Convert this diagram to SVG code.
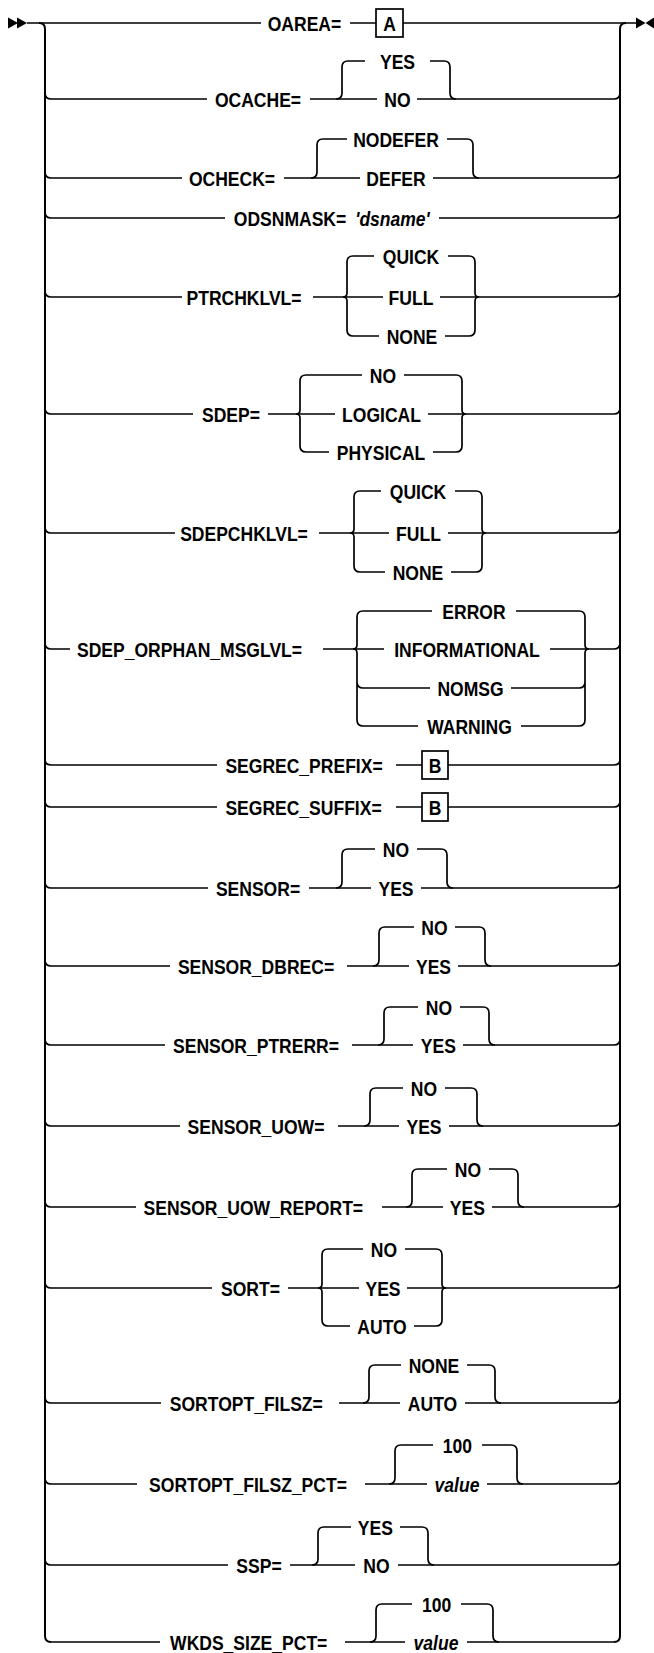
<svg xmlns="http://www.w3.org/2000/svg" width="654" height="1653" viewBox="0 0 654 1653">
<style>
.l{fill:none;stroke:#000;stroke-width:1.7;stroke-linecap:butt}
.r{fill:none;stroke:#000;stroke-width:2}
.t{font-family:"Liberation Sans",Arial,sans-serif;font-weight:bold;font-size:21px;text-anchor:middle;fill:#000}
.i{font-style:italic}
.b{fill:#fff;stroke:#000;stroke-width:1.7}
.a{fill:#000}
</style>
<rect width="654" height="1653" fill="#fff"/>
<g id="connectors">
<polygon class="a" points="8,17.5 18,23 8,28.5"/>
<polygon class="a" points="17,17.5 27,23 17,28.5"/>
<polygon class="a" points="636,17.5 645.5,23 636,28.5"/>
<polygon class="a" points="654,17.5 645.5,23 654,28.5"/>
<path class="r" d="M39 23 Q45 23 45 29 V1636 Q45 1642 51 1642"/>
<path class="r" d="M626 23 Q620 23 620 29 V1636 Q620 1642 614 1642"/>
<path class="l" d="M27 23 H261 M350 23 H376 M403 23 H637"/>
<!-- OCACHE -->
<path class="l" d="M45 93 Q45 99 51 99 H207 M310 99 H377 M417 99 H614 Q620 99 620 93"/>
<path class="l" d="M336 99 Q342 99 342 93 V67 Q342 61 348 61 H365 M430 61 H444 Q450 61 450 67 V93 Q450 99 456 99"/>
<!-- OCHECK -->
<path class="l" d="M45 172 Q45 178 51 178 H182 M284 178 H360 M433 178 H614 Q620 178 620 172"/>
<path class="l" d="M311 178 Q317 178 317 172 V145 Q317 139 323 139 H347 M447 139 H467 Q473 139 473 145 V172 Q473 178 479 178"/>
<!-- ODSNMASK -->
<path class="l" d="M45 212 Q45 218 51 218 H225 M439 218 H614 Q620 218 620 212"/>
<!-- PTRCHKLVL -->
<path class="l" d="M45 291 Q45 297 51 297 H182 M313 297 H383 M440 297 H614 Q620 297 620 291"/>
<path class="l" d="M374 256 H353 Q347 256 347 262 V293 Q347 297 343 297 Q347 297 347 301 V330 Q347 336 353 336 H379"/>
<path class="l" d="M448 256 H469 Q475 256 475 262 V293 Q475 297 479 297 Q475 297 475 301 V330 Q475 336 469 336 H445"/>
<!-- SDEP -->
<path class="l" d="M45 408 Q45 414 51 414 H193 M268 414 H335 M428 414 H614 Q620 414 620 408"/>
<path class="l" d="M362 375 H306 Q300 375 300 381 V410 Q300 414 296 414 Q300 414 300 418 V446 Q300 452 306 452 H329"/>
<path class="l" d="M404 375 H456 Q462 375 462 381 V410 Q462 414 466 414 Q462 414 462 418 V446 Q462 452 456 452 H433"/>
<!-- SDEPCHKLVL -->
<path class="l" d="M45 527 Q45 533 51 533 H175 M319 533 H389 M448 533 H614 Q620 533 620 527"/>
<path class="l" d="M381 491 H360 Q354 491 354 497 V529 Q354 533 350 533 Q354 533 354 537 V566 Q354 572 360 572 H385"/>
<path class="l" d="M455 491 H476 Q482 491 482 497 V529 Q482 533 486 533 Q482 533 482 537 V566 Q482 572 476 572 H451"/>
<!-- SDEP_ORPHAN_MSGLVL -->
<path class="l" d="M45 643 Q45 649 51 649 H70 M323 649 H384 M550 649 H614 Q620 649 620 643"/>
<path class="l" d="M432 611 H363 Q357 611 357 617 V645 Q357 649 353 649 Q357 649 357 653 V720 Q357 726 363 726 H418 M357 682 Q357 688 363 688 H430"/>
<path class="l" d="M516 611 H579 Q585 611 585 617 V645 Q585 649 589 649 Q585 649 585 653 V720 Q585 726 579 726 H521 M511 688 H579 Q585 688 585 682"/>
<!-- SEGREC -->
<path class="l" d="M45 759 Q45 765 51 765 H217 M396 765 H422 M448 765 H614 Q620 765 620 759"/>
<path class="l" d="M45 801 Q45 807 51 807 H217 M396 807 H422 M448 807 H614 Q620 807 620 801"/>
<!-- SENSOR -->
<path class="l" d="M45 882 Q45 888 51 888 H208 M309 888 H371 M421 888 H614 Q620 888 620 882"/>
<path class="l" d="M336 888 Q342 888 342 882 V855 Q342 849 348 849 H375 M417 849 H441 Q447 849 447 855 V882 Q447 888 453 888"/>
<!-- SENSOR_DBREC -->
<path class="l" d="M45 960 Q45 966 51 966 H170 M347 966 H409 M458 966 H614 Q620 966 620 960"/>
<path class="l" d="M373 966 Q379 966 379 960 V933 Q379 927 385 927 H414 M455 927 H479 Q485 927 485 933 V960 Q485 966 491 966"/>
<!-- SENSOR_PTRERR -->
<path class="l" d="M45 1039 Q45 1045 51 1045 H165 M352 1045 H413 M463 1045 H614 Q620 1045 620 1039"/>
<path class="l" d="M378 1045 Q384 1045 384 1039 V1013 Q384 1007 390 1007 H418 M460 1007 H483 Q489 1007 489 1013 V1039 Q489 1045 495 1045"/>
<!-- SENSOR_UOW -->
<path class="l" d="M45 1120 Q45 1126 51 1126 H180 M338 1126 H399 M449 1126 H614 Q620 1126 620 1120"/>
<path class="l" d="M364 1126 Q370 1126 370 1120 V1094 Q370 1088 376 1088 H403 M445 1088 H471 Q477 1088 477 1094 V1120 Q477 1126 483 1126"/>
<!-- SENSOR_UOW_REPORT -->
<path class="l" d="M45 1201 Q45 1207 51 1207 H136 M382 1207 H443 M492 1207 H614 Q620 1207 620 1201"/>
<path class="l" d="M406 1207 Q412 1207 412 1201 V1175 Q412 1169 418 1169 H447 M489 1169 H512 Q518 1169 518 1175 V1201 Q518 1207 524 1207"/>
<!-- SORT -->
<path class="l" d="M45 1282 Q45 1288 51 1288 H212 M288 1288 H359 M407 1288 H614 Q620 1288 620 1282"/>
<path class="l" d="M363 1249 H328 Q322 1249 322 1255 V1284 Q322 1288 318 1288 Q322 1288 322 1292 V1320 Q322 1326 328 1326 H350"/>
<path class="l" d="M405 1249 H436 Q442 1249 442 1255 V1284 Q442 1288 446 1288 Q442 1288 442 1292 V1320 Q442 1326 436 1326 H414"/>
<!-- SORTOPT_FILSZ -->
<path class="l" d="M45 1397 Q45 1403 51 1403 H161 M339 1403 H400 M465 1403 H614 Q620 1403 620 1397"/>
<path class="l" d="M363 1403 Q369 1403 369 1397 V1371 Q369 1365 375 1365 H401 M467 1365 H489 Q495 1365 495 1371 V1397 Q495 1403 501 1403"/>
<!-- SORTOPT_FILSZ_PCT -->
<path class="l" d="M45 1478 Q45 1484 51 1484 H137 M365 1484 H427 M487 1484 H614 Q620 1484 620 1478"/>
<path class="l" d="M389 1484 Q395 1484 395 1478 V1451 Q395 1445 401 1445 H433 M482 1445 H511 Q517 1445 517 1451 V1478 Q517 1484 523 1484"/>
<!-- SSP -->
<path class="l" d="M45 1559 Q45 1565 51 1565 H228 M290 1565 H355 M398 1565 H614 Q620 1565 620 1559"/>
<path class="l" d="M312 1565 Q318 1565 318 1559 V1533 Q318 1527 324 1527 H351 M400 1527 H422 Q428 1527 428 1533 V1559 Q428 1565 434 1565"/>
<!-- WKDS_SIZE_PCT -->
<path class="l" d="M51 1642 H160 M345 1642 H405 M467 1642 H614"/>
<path class="l" d="M370 1642 Q376 1642 376 1636 V1610 Q376 1604 382 1604 H412 M461 1604 H487 Q493 1604 493 1610 V1636 Q493 1642 499 1642"/>
</g>
<g id="oarea">
<text class="t" transform="translate(304.5 30.5) scale(.835 1)">OAREA=</text>
<rect class="b" x="376" y="9" width="27" height="28"/>
<text class="t" transform="translate(389.5 30.5) scale(.835 1)">A</text>
</g>
<g id="ocache">
<text class="t" transform="translate(258 106.5) scale(.835 1)">OCACHE=</text>
<text class="t" transform="translate(397.5 68.5) scale(.835 1)">YES</text>
<text class="t" transform="translate(397.5 106.5) scale(.835 1)">NO</text>
</g>
<g id="ocheck">
<text class="t" transform="translate(232 185.5) scale(.835 1)">OCHECK=</text>
<text class="t" transform="translate(396 146.5) scale(.835 1)">NODEFER</text>
<text class="t" transform="translate(396 185.5) scale(.835 1)">DEFER</text>
</g>
<g id="odsnmask">
<text class="t" transform="translate(290 225.5) scale(.835 1)">ODSNMASK=</text>
<text class="t i" transform="translate(392.5 225.5) scale(.835 1)">'dsname'</text>
</g>
<g id="ptrchklvl">
<text class="t" transform="translate(244 304.5) scale(.835 1)">PTRCHKLVL=</text>
<text class="t" transform="translate(411 263.5) scale(.835 1)">QUICK</text>
<text class="t" transform="translate(411 304.5) scale(.835 1)">FULL</text>
<text class="t" transform="translate(412 343.5) scale(.835 1)">NONE</text>
</g>
<g id="sdep">
<text class="t" transform="translate(231 421.5) scale(.835 1)">SDEP=</text>
<text class="t" transform="translate(383 382.5) scale(.835 1)">NO</text>
<text class="t" transform="translate(381.5 421.5) scale(.835 1)">LOGICAL</text>
<text class="t" transform="translate(381 459.5) scale(.835 1)">PHYSICAL</text>
</g>
<g id="sdepchklvl">
<text class="t" transform="translate(244 540.5) scale(.835 1)">SDEPCHKLVL=</text>
<text class="t" transform="translate(418 498.5) scale(.835 1)">QUICK</text>
<text class="t" transform="translate(418.5 540.5) scale(.835 1)">FULL</text>
<text class="t" transform="translate(418 579.5) scale(.835 1)">NONE</text>
</g>
<g id="sdep-orphan-msglvl">
<text class="t" transform="translate(189.5 656.5) scale(.835 1)">SDEP_ORPHAN_MSGLVL=</text>
<text class="t" transform="translate(474 618.5) scale(.835 1)">ERROR</text>
<text class="t" transform="translate(467 656.5) scale(.835 1)">INFORMATIONAL</text>
<text class="t" transform="translate(470.5 695.5) scale(.835 1)">NOMSG</text>
<text class="t" transform="translate(469.5 733.5) scale(.835 1)">WARNING</text>
</g>
<g id="segrec-prefix">
<text class="t" transform="translate(304 772.5) scale(.835 1)">SEGREC_PREFIX=</text>
<rect class="b" x="422" y="751" width="26" height="28"/>
<text class="t" transform="translate(435 772.5) scale(.835 1)">B</text>
</g>
<g id="segrec-suffix">
<text class="t" transform="translate(303.5 814.5) scale(.835 1)">SEGREC_SUFFIX=</text>
<rect class="b" x="422" y="793" width="26" height="28"/>
<text class="t" transform="translate(435 814.5) scale(.835 1)">B</text>
</g>
<g id="sensor">
<text class="t" transform="translate(258 895.5) scale(.835 1)">SENSOR=</text>
<text class="t" transform="translate(396 856.5) scale(.835 1)">NO</text>
<text class="t" transform="translate(396 895.5) scale(.835 1)">YES</text>
</g>
<g id="sensor-dbrec">
<text class="t" transform="translate(256 973.5) scale(.835 1)">SENSOR_DBREC=</text>
<text class="t" transform="translate(434.5 934.5) scale(.835 1)">NO</text>
<text class="t" transform="translate(433.5 973.5) scale(.835 1)">YES</text>
</g>
<g id="sensor-ptrerr">
<text class="t" transform="translate(256 1052.5) scale(.835 1)">SENSOR_PTRERR=</text>
<text class="t" transform="translate(439 1014.5) scale(.835 1)">NO</text>
<text class="t" transform="translate(438.3 1052.5) scale(.835 1)">YES</text>
</g>
<g id="sensor-uow">
<text class="t" transform="translate(256 1133.5) scale(.835 1)">SENSOR_UOW=</text>
<text class="t" transform="translate(424 1095.5) scale(.835 1)">NO</text>
<text class="t" transform="translate(424 1133.5) scale(.835 1)">YES</text>
</g>
<g id="sensor-uow-report">
<text class="t" transform="translate(253.3 1214.5) scale(.835 1)">SENSOR_UOW_REPORT=</text>
<text class="t" transform="translate(468 1176.5) scale(.835 1)">NO</text>
<text class="t" transform="translate(467.3 1214.5) scale(.835 1)">YES</text>
</g>
<g id="sort">
<text class="t" transform="translate(250.5 1295.5) scale(.835 1)">SORT=</text>
<text class="t" transform="translate(384 1256.5) scale(.835 1)">NO</text>
<text class="t" transform="translate(383 1295.5) scale(.835 1)">YES</text>
<text class="t" transform="translate(382 1333.5) scale(.835 1)">AUTO</text>
</g>
<g id="sortopt-filsz">
<text class="t" transform="translate(246.3 1410.5) scale(.835 1)">SORTOPT_FILSZ=</text>
<text class="t" transform="translate(434 1372.5) scale(.835 1)">NONE</text>
<text class="t" transform="translate(432.5 1410.5) scale(.835 1)">AUTO</text>
</g>
<g id="sortopt-filsz-pct">
<text class="t" transform="translate(248 1491.5) scale(.835 1)">SORTOPT_FILSZ_PCT=</text>
<text class="t" transform="translate(457.3 1452.5) scale(.835 1)">100</text>
<text class="t i" transform="translate(457 1491.5) scale(.835 1)">value</text>
</g>
<g id="ssp">
<text class="t" transform="translate(259 1572.5) scale(.835 1)">SSP=</text>
<text class="t" transform="translate(375.3 1534.5) scale(.835 1)">YES</text>
<text class="t" transform="translate(376.5 1572.5) scale(.835 1)">NO</text>
</g>
<g id="wkds-size-pct">
<text class="t" transform="translate(248.7 1649.5) scale(.835 1)">WKDS_SIZE_PCT=</text>
<text class="t" transform="translate(436.7 1611.5) scale(.835 1)">100</text>
<text class="t i" transform="translate(436 1649.5) scale(.835 1)">value</text>
</g>
</svg>
